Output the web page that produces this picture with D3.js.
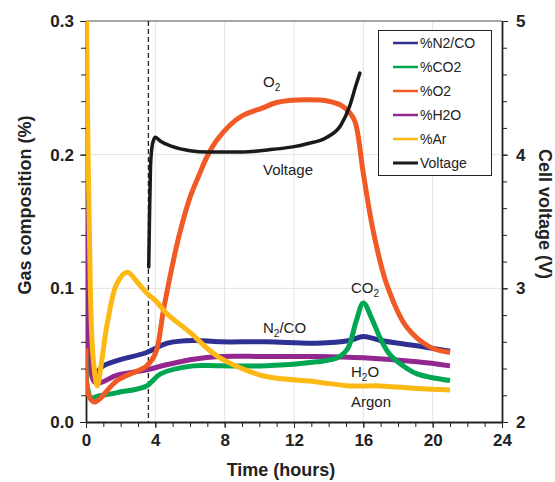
<!DOCTYPE html>
<html>
<head>
<meta charset="utf-8">
<script src="https://cdn.jsdelivr.net/npm/d3@7"></script>
<style>
  body { margin: 0; background: #fff; }
  svg { font-family: Arial, "Liberation Sans", sans-serif; }
  .tick text { font-weight: bold; font-size: 17px; fill: #222; }
  .axis path, .axis line { stroke: #222; }
</style>
</head>
<body>
<svg width="555" height="482"></svg>
<script>
// series: [hours, value]
var n2co = [[0,0.19],[0.08,0.09],[0.25,0.047],[0.55,0.037],[1,0.042],[1.8,0.046],[3.5,0.052],[4.7,0.059],[6.2,0.061],[7.7,0.060],[10.4,0.060],[13.3,0.059],[15.2,0.061],[16,0.064],[17,0.061],[19.1,0.057],[21,0.053]];
var co2 = [[0,0.05],[0.08,0.026],[0.3,0.018],[0.6,0.019],[1.8,0.022],[3.5,0.027],[4.3,0.036],[6.2,0.042],[7.7,0.042],[10.4,0.042],[13.3,0.045],[14.5,0.048],[15.1,0.055],[15.6,0.076],[16.0,0.089],[16.5,0.077],[17.0,0.062],[17.5,0.051],[18.3,0.042],[19.1,0.036],[21,0.031]];
var o2 = [[0,0.055],[0.15,0.02],[0.5,0.015],[1.8,0.031],[3.5,0.042],[4.0,0.051],[4.5,0.086],[5.08,0.123],[5.4,0.141],[6.0,0.168],[6.5,0.184],[7.0,0.199],[7.5,0.210],[8.3,0.222],[9,0.229],[10.2,0.235],[11,0.239],[12.7,0.241],[14,0.240],[14.7,0.237],[15.4,0.228],[15.6,0.221],[16,0.186],[16.6,0.141],[17.35,0.103],[18.5,0.071],[19.85,0.056],[21,0.052]];
var h2o = [[0,0.16],[0.08,0.075],[0.3,0.036],[0.6,0.029],[1.8,0.035],[3.5,0.039],[4.7,0.043],[6.2,0.047],[7.7,0.049],[10.4,0.049],[13.3,0.049],[16,0.048],[19.1,0.045],[21,0.042]];
var ar = [[0,0.34],[0.12,0.2],[0.25,0.1],[0.4,0.05],[0.65,0.027],[0.9,0.045],[1.23,0.074],[1.8,0.104],[2.38,0.112],[3.0,0.104],[3.54,0.096],[4.0,0.091],[4.67,0.081],[6.0,0.067],[7.0,0.055],[7.73,0.048],[9,0.040],[10.4,0.034],[13.3,0.030],[15.2,0.027],[17,0.027],[19.1,0.025],[21,0.024]];
var voltage = [[3.62,3.16],[3.66,3.5],[3.72,3.9],[3.8,4.05],[3.9,4.11],[4.0,4.13],[4.3,4.10],[5.0,4.06],[6.0,4.03],[7.0,4.02],[9.0,4.02],[10.8,4.04],[12.0,4.06],[12.7,4.08],[13.9,4.13],[14.7,4.22],[15.2,4.36],[15.6,4.53],[15.8,4.61]];

var xTicks = [0, 4, 8, 12, 16, 20, 24];
var yTicks = [0.0, 0.1, 0.2, 0.3];
var vTicks = [2, 3, 4, 5];
var switchTime = 3.6;

var series = [
  {name: "%N2/CO", data: n2co, color: "#2e3192"},
  {name: "%CO2", data: co2, color: "#00a651"},
  {name: "%O2", data: o2, color: "#f15a24"},
  {name: "%H2O", data: h2o, color: "#92278f"},
  {name: "%Ar", data: ar, color: "#fdb913"}
];
var drawOrder = [0, 3, 1, 2, 4];

var svg = d3.select("svg"),
  pL = 86, pR = 502, pT = 21, pB = 422;

var x = d3.scaleLinear().domain([0, 24]).range([pL, pR]);
var y = d3.scaleLinear().domain([0, 0.3]).range([pB, pT]);
var yv = d3.scaleLinear().domain([2, 5]).range([pB, pT]);

svg.append("clipPath").attr("id", "clip").append("rect")
  .attr("x", pL).attr("y", pT).attr("width", pR - pL).attr("height", pB - pT);

// grid
var grid = svg.append("g");
grid.selectAll(".gx").data(xTicks.slice(1, -1)).enter().append("line")
  .attr("x1", x).attr("x2", x).attr("y1", pT).attr("y2", pB)
  .attr("stroke", "#e2e2e2").attr("stroke-width", 1);
grid.selectAll(".gy").data([0.1, 0.2]).enter().append("line")
  .attr("x1", pL).attr("x2", pR).attr("y1", y).attr("y2", y)
  .attr("stroke", "#e2e2e2").attr("stroke-width", 1);
svg.append("line").attr("x1", pL).attr("x2", pR).attr("y1", pT).attr("y2", pT)
  .attr("stroke", "#888").attr("stroke-width", 1.5);

// minor ticks
svg.append("g").attr("class", "axis").attr("transform", "translate(0," + pB + ")")
  .call(d3.axisBottom(x).tickValues(d3.range(0, 25, 1)).tickSize(5).tickFormat(""))
  .select(".domain").remove();
svg.append("g").attr("class", "axis").attr("transform", "translate(" + pL + ",0)")
  .call(d3.axisLeft(y).tickValues(d3.range(0, 0.301, 0.02)).tickSize(5).tickFormat(""))
  .select(".domain").remove();
svg.append("g").attr("class", "axis").attr("transform", "translate(" + pR + ",0)")
  .call(d3.axisRight(yv).tickValues(d3.range(2, 5.01, 0.2)).tickSize(5).tickFormat(""))
  .select(".domain").remove();

// main axes
svg.append("g").attr("class", "axis").attr("transform", "translate(0," + pB + ")")
  .call(d3.axisBottom(x).tickValues(xTicks).tickSize(6).tickSizeOuter(0).tickPadding(6).tickFormat(d3.format("d")))
  .selectAll(".domain").attr("stroke-width", 1.8);
svg.append("g").attr("class", "axis").attr("transform", "translate(" + pL + ",0)")
  .call(d3.axisLeft(y).tickValues(yTicks).tickSize(6).tickSizeOuter(0).tickPadding(6).tickFormat(d3.format(".1f")))
  .selectAll(".domain").attr("stroke-width", 1.8);
svg.append("g").attr("class", "axis").attr("transform", "translate(" + pR + ",0)")
  .call(d3.axisRight(yv).tickValues(vTicks).tickSize(6).tickSizeOuter(0).tickPadding(8).tickFormat(d3.format("d")))
  .selectAll(".domain").attr("stroke-width", 1.8);

// dashed switch line
svg.append("line").attr("x1", x(switchTime)).attr("x2", x(switchTime)).attr("y1", pT).attr("y2", pB)
  .attr("stroke", "#222").attr("stroke-width", 1.3).attr("stroke-dasharray", "5,3");

var line = d3.line().curve(d3.curveCatmullRom.alpha(0.5))
  .x(function(d) { return x(d[0]); }).y(function(d) { return y(d[1]); });
var vline = d3.line().curve(d3.curveMonotoneX)
  .x(function(d) { return x(d[0]); }).y(function(d) { return yv(d[1]); });

var plot = svg.append("g").attr("clip-path", "url(#clip)");
drawOrder.forEach(function(i) {
  var s = series[i];
  plot.append("path").attr("d", line(s.data)).attr("fill", "none")
    .attr("stroke", s.color).attr("stroke-width", 5).attr("stroke-linejoin", "round");
});
plot.append("path").attr("d", vline(voltage)).attr("fill", "none")
  .attr("stroke", "#1a1a1a").attr("stroke-width", 3.5).attr("stroke-linecap", "round");

// annotations
function label(tx, ty, main, sub, rest) {
  var t = svg.append("text").attr("x", tx).attr("y", ty).attr("font-size", 15).attr("fill", "#222").text(main);
  if (sub) {
    t.append("tspan").attr("font-size", 10).attr("dy", 4).text(sub);
    if (rest) t.append("tspan").attr("font-size", 15).attr("dy", -4).text(rest);
  }
}
label(263, 87, "O", "2");
label(263, 175, "Voltage");
label(263, 333, "N", "2", "/CO");
label(351, 293, "CO", "2");
label(351, 377, "H", "2", "O");
label(351, 407, "Argon");

// legend
var legendItems = series.map(function(s) { return {name: s.name, color: s.color}; })
  .concat([{name: "Voltage", color: "#1a1a1a"}]);
var lg = svg.append("g");
lg.append("rect").attr("x", 378.5).attr("y", 30.5).attr("width", 113).attr("height", 145)
  .attr("fill", "#fff").attr("stroke", "#222").attr("stroke-width", 1);
var li = lg.selectAll(".li").data(legendItems).enter().append("g")
  .attr("transform", function(d, i) { return "translate(0," + (43 + i * 24) + ")"; });
li.append("line").attr("x1", 393).attr("x2", 418).attr("stroke", function(d) { return d.color; })
  .attr("stroke-width", function(d) { return d.name === "Voltage" ? 3 : 2.5; });
li.append("text").attr("x", 420).attr("dy", "0.35em").attr("font-size", 14).attr("fill", "#222")
  .text(function(d) { return d.name; });

// axis titles
svg.append("text").attr("transform", "translate(31,205) rotate(-90)").attr("text-anchor", "middle")
  .attr("font-size", 18).attr("font-weight", "bold").attr("fill", "#222").text("Gas composition (%)");
svg.append("text").attr("transform", "translate(539,214) rotate(90)").attr("text-anchor", "middle")
  .attr("font-size", 18).attr("font-weight", "bold").attr("fill", "#222").text("Cell voltage (V)");
svg.append("text").attr("x", 281).attr("y", 476).attr("text-anchor", "middle")
  .attr("font-size", 18).attr("font-weight", "bold").attr("fill", "#222").text("Time (hours)");
</script>
</body>
</html>
